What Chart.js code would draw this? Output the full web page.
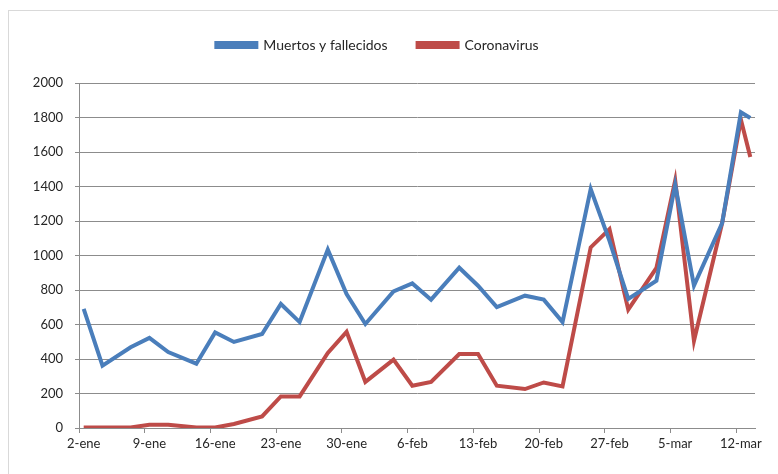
<!DOCTYPE html>
<html>
<head>
<meta charset="utf-8">
<script src="https://cdn.jsdelivr.net/npm/chart.js@4/dist/chart.umd.min.js"></script>
<style>
  html, body { margin: 0; padding: 0; background: #fff; overflow: hidden; }
  #wrap { position: relative; width: 778px; height: 474px; }
  #frame { position: absolute; left: 8px; top: 10px; width: 900px; height: 600px;
           border-left: 1px solid #d9d9d9; border-top: 1px solid #d9d9d9; }
  #chart { position: absolute; left: 0; top: 0; }
</style>
</head>
<body>
<div id="wrap">
  <div id="frame"></div>
  <canvas id="chart" width="778" height="474"></canvas>
</div>
<script>
// dias del eje (2-ene a 13-mar de 2020)
var MESES = [['ene', 2, 31], ['feb', 1, 29], ['mar', 1, 13]];

// fechas con dato
var fechas = ['2-ene','4-ene','7-ene','9-ene','11-ene','14-ene','16-ene','18-ene','21-ene','23-ene','25-ene','28-ene','30-ene',
              '1-feb','4-feb','6-feb','8-feb','11-feb','13-feb','15-feb','18-feb','20-feb','22-feb','25-feb','27-feb','29-feb',
              '3-mar','5-mar','7-mar','10-mar','12-mar','13-mar'];

var muertos = [690, 361, 468, 522, 440, 373, 554, 499, 545, 719, 614, 1034, 777,
               603, 792, 838, 744, 929, 825, 701, 767, 744, 614, 1385, 1085, 748,
               854, 1410, 825, 1188, 1830, 1797];

var coronavirus = [3, 3, 3, 19, 19, 3, 3, 23, 67, 183, 183, 435, 557,
                   267, 396, 245, 267, 429, 429, 245, 226, 264, 241, 1047, 1153, 686,
                   928, 1435, 506, 1188, 1787, 1571];

var tickLabels = ['2-ene','9-ene','16-ene','23-ene','30-ene','6-feb','13-feb','20-feb','27-feb','5-mar','12-mar'];

var dias = [];
MESES.forEach(function(m) {
  for (var d = m[1]; d <= m[2]; d++) dias.push(d + '-' + m[0]);
});

function serie(vals) {
  return fechas.map(function(f, i) { return { x: f, y: vals[i] }; });
}

var GRID = '#8c8c8c';
var FONT = { family: 'Lato', size: 13 };

// deja mas aire bajo la leyenda sin moverla
var legendGap = {
  id: 'legendGap',
  beforeLayout: function(chart) {
    var lg = chart.legend;
    if (!lg || lg._gap) return;
    var fit = lg.fit;
    lg.fit = function() { fit.call(this); this.height += 21; };
    lg._gap = true;
  }
};

new Chart(document.getElementById('chart').getContext('2d'), {
  type: 'line',
  data: {
    labels: dias,
    datasets: [
      { label: 'Muertos y fallecidos', data: serie(muertos), borderColor: '#4a7ebb', backgroundColor: '#4a7ebb',
        borderWidth: 4, pointRadius: 0, tension: 0 },
      { label: 'Coronavirus', data: serie(coronavirus), borderColor: '#be4b48', backgroundColor: '#be4b48',
        borderWidth: 4, pointRadius: 0, tension: 0 }
    ]
  },
  options: {
    responsive: false,
    animation: false,
    layout: { padding: { left: 0, right: 23, top: 8, bottom: 16 } },
    plugins: {
      legend: {
        position: 'top',
        labels: { boxWidth: 40, boxHeight: 4, padding: 30, color: '#262626', font: { family: 'Lato', size: 14 } }
      },
      tooltip: { enabled: false }
    },
    scales: {
      x: {
        type: 'category',
        offset: true,
        border: { color: GRID, width: 1 },
        grid: {
          offset: true,
          drawOnChartArea: false,
          tickLength: 5,
          color: function(c) { return c.index % 7 === 0 ? GRID : 'rgba(0,0,0,0)'; }
        },
        ticks: {
          autoSkip: false, maxRotation: 0, padding: 3, color: '#262626', font: FONT,
          callback: function(v, i) { return i % 7 === 0 ? tickLabels[i / 7] : ''; }
        },
        afterFit: function(s) { s.height = 30; }
      },
      y: {
        min: 0, max: 2000,
        border: { color: GRID, width: 1 },
        grid: { color: GRID, tickLength: 4 },
        ticks: { stepSize: 200, padding: 12, color: '#262626', font: FONT,
                 callback: function(v) { return String(v); } },
        afterFit: function(s) { s.width = 79; }
      }
    }
  },
  plugins: [legendGap]
});
</script>
</body>
</html>
